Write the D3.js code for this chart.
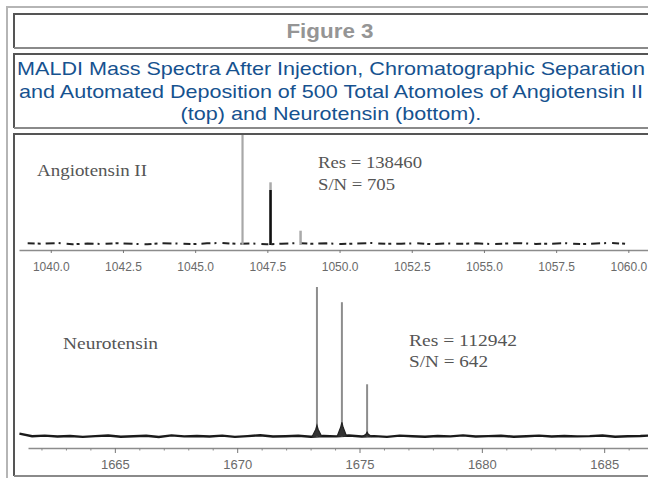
<!DOCTYPE html>
<html>
<head>
<meta charset="utf-8">
<script src="https://cdnjs.cloudflare.com/ajax/libs/d3/7.8.5/d3.min.js"></script>
<style>
  body { margin: 0; background: #fff; overflow: hidden; }
</style>
</head>
<body>
<div id="chart-container"></div>
<script>
// ---- data ----
const figTitle = "Figure 3";
const captionLines = [
  "MALDI Mass Spectra After Injection, Chromatographic Separation",
  "and Automated Deposition of 500 Total Atomoles of Angiotensin II",
  "(top) and Neurotensin (bottom)."
];

// top spectrum (Angiotensin II), m/z and relative intensity
const angioTicks = [1040, 1042.5, 1045, 1047.5, 1050, 1052.5, 1055, 1057.5, 1060];
const angioMarker = [1046.64];
const angioGrayPeaks = [{ mz: 1047.61, y: 57 }, { mz: 1048.65, y: 13 }];
const angioBlackPeaks = [{ mz: 1047.61, y: 50 }];
const angioNoise = [1.5, 1.2, 1.8, 0.6, 1.4, 0.9, 1.6, 1.1, 0.7, 1.7, 1.3, 0.8, 1.5, 1.9, 1.0, 1.4,
  0.6, 1.2, 1.7, 1.1, 1.5, 0.9, 1.3, 1.8, 1.0, 1.2, 1.6, 0.8, 1.4, 1.1, 1.5, 0.9, 1.3, 1.7, 1.0, 1.2,
  1.6, 0.8, 1.4, 1.9, 1.1];
const angioLabels = ["Angiotensin II", "Res = 138460", "S/N = 705"];

// bottom spectrum (Neurotensin)
const neuroTicks = [1665, 1670, 1675, 1680, 1685];
const neuroMinor = [1662, 1663, 1664, 1666, 1667, 1668, 1669, 1671, 1672, 1673, 1674, 1676, 1677,
  1678, 1679, 1681, 1682, 1683, 1684, 1686];
const neuroGrayPeaks = [{ mz: 1673.26, y: 100 }, { mz: 1674.28, y: 90 }, { mz: 1675.31, y: 36 }];
const neuroBumps = [{ mz: 1673.26, y: 9 }, { mz: 1674.28, y: 11 }, { mz: 1675.31, y: 4.5 }];
const neuroNoise = [3.5, 1.8, 2.2, 1.6, 2.0, 1.4, 1.9, 2.3, 1.5, 1.8, 2.1, 1.3, 2.4, 1.7, 2.0, 1.6,
  2.2, 1.4, 1.9, 2.5, 1.6, 1.8, 2.1, 1.5, 2.0, 1.7, 2.3, 1.6, 1.9, 1.4, 2.2, 1.8, 1.5, 2.0, 1.7, 2.4,
  1.6, 1.9, 2.1, 1.5, 1.8, 2.2, 1.6, 2.0, 1.7, 1.9, 2.3, 1.5, 1.8, 2.0, 2.4];
const neuroLabels = ["Neurotensin", "Res = 112942", "S/N = 642"];

// ---- page ----
const W = 648, H = 478;
const svg = d3.select("#chart-container")
  .append("svg")
  .attr("width", W)
  .attr("height", H)
  .style("display", "block");

svg.append("rect").attr("width", W).attr("height", H).attr("fill", "#fff");

// outer table frame
svg.append("path")
  .attr("d", "M7,490 V7 H700")
  .attr("fill", "none").attr("stroke", "#b5b5b5").attr("stroke-width", 2);

// cells: header, caption, chart
const cells = [[14, 48], [54, 128], [134, 476]];
cells.forEach(c => {
  svg.append("path")
    .attr("d", `M14,${c[1]} V${c[0]} H700`)
    .attr("fill", "none").attr("stroke", "#555").attr("stroke-width", 2);
  svg.append("path")
    .attr("d", `M14,${c[1]} H700`)
    .attr("fill", "none").attr("stroke", "#8a8a8a").attr("stroke-width", 2);
});

// title
svg.append("text")
  .attr("transform", "translate(330,38) scale(1.15,1)")
  .attr("text-anchor", "middle")
  .style("font-family", "'Liberation Sans', Arial, sans-serif")
  .style("font-weight", "bold")
  .style("font-size", "19.5px")
  .style("fill", "#959595")
  .text(figTitle);

// caption
captionLines.forEach((t, i) => {
  svg.append("text")
    .attr("transform", `translate(331,${75 + i * 22.5}) scale(1.16,1)`)
    .attr("text-anchor", "middle")
    .style("font-family", "'Liberation Sans', Arial, sans-serif")
    .style("font-size", "18.6px")
    .style("fill", "#16528f")
    .text(t);
});

const serif = "'Liberation Serif', 'Times New Roman', serif";
const labelFont = "'Liberation Sans', Arial, sans-serif";

// ---- top spectrum ----
const xTop = d3.scaleLinear().domain([1038.9, 1060.75]).range([19, 650]);
const yTop = d3.scaleLinear().domain([0, 100]).range([245, 135]);

const gTop = svg.append("g");

// baseline noise
const angioMz = d3.range(angioNoise.length).map(i => 1039.2 + i * (1059.9 - 1039.2) / (angioNoise.length - 1));
gTop.append("path")
  .datum(angioNoise.map((v, i) => [angioMz[i], v]))
  .attr("d", d3.line().x(d => xTop(d[0])).y(d => yTop(d[1])))
  .attr("fill", "none")
  .attr("stroke", "#222")
  .attr("stroke-width", 2)
  .attr("stroke-dasharray", "7,3,3,5,9,4,2,6");

gTop.selectAll(".marker")
  .data(angioMarker)
  .enter().append("line")
  .attr("x1", d => xTop(d)).attr("x2", d => xTop(d))
  .attr("y1", yTop(0)).attr("y2", 135)
  .attr("stroke", "#a8a8a8").attr("stroke-width", 2.2);

gTop.selectAll(".gpk")
  .data(angioGrayPeaks)
  .enter().append("line")
  .attr("x1", d => xTop(d.mz)).attr("x2", d => xTop(d.mz))
  .attr("y1", yTop(0)).attr("y2", d => yTop(d.y))
  .attr("stroke", "#aaa").attr("stroke-width", 2.5);

gTop.selectAll(".bpk")
  .data(angioBlackPeaks)
  .enter().append("line")
  .attr("x1", d => xTop(d.mz)).attr("x2", d => xTop(d.mz))
  .attr("y1", yTop(0)).attr("y2", d => yTop(d.y))
  .attr("stroke", "#111").attr("stroke-width", 2.5);

const axTop = gTop.append("g")
  .attr("transform", "translate(0,250)")
  .call(d3.axisBottom(xTop).tickValues(angioTicks).tickFormat(d3.format(".1f")).tickSize(3).tickSizeOuter(0));
axTop.select(".domain").attr("stroke", "#8c8c8c").attr("stroke-width", 1.6);
axTop.selectAll(".tick line").attr("stroke", "#777");
axTop.selectAll(".tick text")
  .attr("y", 12)
  .style("font-family", labelFont)
  .style("font-size", "12px")
  .style("fill", "#6a6a6a");

gTop.append("text").attr("x", 37).attr("y", 176).attr("textLength", 110)
  .attr("lengthAdjust", "spacingAndGlyphs")
  .style("font-family", serif).style("font-size", "17px").style("fill", "#555")
  .text(angioLabels[0]);
gTop.append("text").attr("x", 318).attr("y", 168).attr("textLength", 104)
  .attr("lengthAdjust", "spacingAndGlyphs")
  .style("font-family", serif).style("font-size", "17px").style("fill", "#555")
  .text(angioLabels[1]);
gTop.append("text").attr("x", 318).attr("y", 190).attr("textLength", 77)
  .attr("lengthAdjust", "spacingAndGlyphs")
  .style("font-family", serif).style("font-size", "17px").style("fill", "#555")
  .text(angioLabels[2]);

// ---- bottom spectrum ----
const xBot = d3.scaleLinear().domain([1661.45, 1687.2]).range([28, 658]);
const yBot = d3.scaleLinear().domain([0, 100]).range([439, 287]);

const gBot = svg.append("g");

const neuroMz = d3.range(neuroNoise.length).map(i => 1661.1 + i * (1687.0 - 1661.1) / (neuroNoise.length - 1));
gBot.append("path")
  .datum(neuroNoise.map((v, i) => [neuroMz[i], v]))
  .attr("d", d3.line().x(d => xBot(d[0])).y(d => yBot(d[1])))
  .attr("fill", "none")
  .attr("stroke", "#1a1a1a")
  .attr("stroke-width", 2.4);

gBot.selectAll(".gpk")
  .data(neuroGrayPeaks)
  .enter().append("line")
  .attr("x1", d => xBot(d.mz)).attr("x2", d => xBot(d.mz))
  .attr("y1", yBot(1.5)).attr("y2", d => yBot(d.y))
  .attr("stroke", "#8d8d8d").attr("stroke-width", 2);

gBot.selectAll(".bump")
  .data(neuroBumps)
  .enter().append("path")
  .attr("d", d => d3.line()([
    [xBot(d.mz - 0.2), yBot(1.5)], [xBot(d.mz - 0.05), yBot(d.y * 0.7)],
    [xBot(d.mz), yBot(d.y)], [xBot(d.mz + 0.05), yBot(d.y * 0.7)], [xBot(d.mz + 0.2), yBot(1.5)]
  ]))
  .attr("fill", "#333").attr("stroke", "#222").attr("stroke-width", 1.2);

const axBotMinor = gBot.append("g")
  .attr("transform", "translate(0,448)")
  .call(d3.axisBottom(xBot).tickValues(neuroMinor).tickFormat("").tickSize(2.5).tickSizeOuter(0));
axBotMinor.select(".domain").attr("stroke", "#8c8c8c").attr("stroke-width", 1.6);
axBotMinor.selectAll(".tick line").attr("stroke", "#888");

const axBot = gBot.append("g")
  .attr("transform", "translate(0,448)")
  .call(d3.axisBottom(xBot).tickValues(neuroTicks).tickFormat(d3.format("d")).tickSize(5).tickSizeOuter(0));
axBot.select(".domain").remove();
axBot.selectAll(".tick line").attr("stroke", "#777");
axBot.selectAll(".tick text")
  .attr("y", 12)
  .style("font-family", labelFont)
  .style("font-size", "13px")
  .style("fill", "#6a6a6a");

gBot.append("text").attr("x", 63).attr("y", 349).attr("textLength", 95)
  .attr("lengthAdjust", "spacingAndGlyphs")
  .style("font-family", serif).style("font-size", "17px").style("fill", "#555")
  .text(neuroLabels[0]);
gBot.append("text").attr("x", 409).attr("y", 346).attr("textLength", 108)
  .attr("lengthAdjust", "spacingAndGlyphs")
  .style("font-family", serif).style("font-size", "17px").style("fill", "#555")
  .text(neuroLabels[1]);
gBot.append("text").attr("x", 409).attr("y", 367).attr("textLength", 79)
  .attr("lengthAdjust", "spacingAndGlyphs")
  .style("font-family", serif).style("font-size", "17px").style("fill", "#555")
  .text(neuroLabels[2]);
</script>
</body>
</html>
